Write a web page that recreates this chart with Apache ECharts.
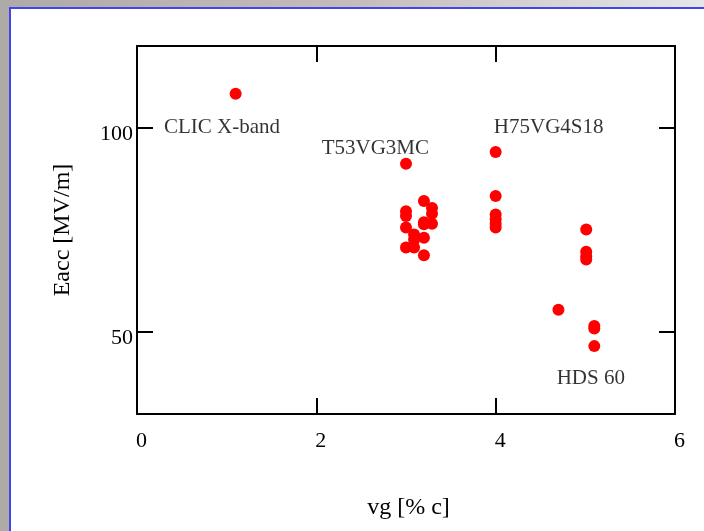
<!DOCTYPE html>
<html>
<head>
<meta charset="utf-8">
<style>
  html, body { margin: 0; padding: 0; background: #b8b2b0; }
  #chart { width: 704px; height: 531px; }
</style>
<script src="https://cdn.jsdelivr.net/npm/echarts@6/dist/echarts.min.js"></script>
</head>
<body>
<div id="chart"></div>
<script>
// ---- data ----
const xTickValues = [0, 2, 4, 6];
const yTickValues = [50, 100];

// [vg %c, Eacc MV/m]
const clicPoints = [[1.10, 108.3]];
const t53Points = [
  [3.00, 91.2], [3.00, 79.6], [3.00, 78.4], [3.00, 75.6], [3.00, 70.7],
  [3.09, 73.9], [3.09, 72.6], [3.09, 70.7],
  [3.20, 82.1], [3.20, 76.9], [3.20, 76.4], [3.20, 73.1], [3.20, 68.8],
  [3.29, 80.4], [3.29, 79.0], [3.29, 76.5]
];
const h75Points = [[4.00, 94.1], [4.00, 83.3], [4.00, 78.8], [4.00, 77.6], [4.00, 76.5], [4.00, 75.6]];
const hdsPoints = [[5.01, 75.1], [5.01, 69.7], [5.01, 68.6], [5.01, 67.8], [4.70, 55.5], [5.10, 51.5], [5.10, 50.9], [5.10, 46.6]];

// annotation text anchored at [left x, middle y] in data units
const annotationNames = ['CLIC X-band', 'T53VG3MC', 'H75VG4S18', 'HDS 60'];
const annotationAnchors = [[0.30, 100.0], [2.06, 95.0], [3.98, 100.0], [4.68, 38.8]];

const allPoints = [].concat(clicPoints, t53Points, h75Points, hdsPoints);

const chart = echarts.init(document.getElementById('chart'), null, { renderer: 'canvas' });

const serif = '"Liberation Serif", "DejaVu Serif", "Times New Roman", serif';
const axisLineStyle = { color: '#000', width: 2 };

const option = {
  animation: false,
  backgroundColor: 'transparent',
  graphic: [
    {
      type: 'rect', z: -10, silent: true,
      shape: { x: 0, y: 0, width: 704, height: 531 },
      style: {
        fill: new echarts.graphic.LinearGradient(0, 0, 1, 0, [
          { offset: 0, color: '#aeaaa8' },
          { offset: 0.5, color: '#c4bcba' },
          { offset: 1, color: '#e4e6e8' }
        ])
      }
    },
    {
      type: 'rect', z: -9, silent: true,
      shape: { x: 10, y: 8, width: 760, height: 600 },
      style: { fill: '#ffffff', stroke: '#4444ee', lineWidth: 2 }
    }
  ],
  grid: { left: 137, right: 29, top: 46, bottom: 117, containLabel: false, outerBoundsMode: 'none' },
  xAxis: [
    {
      type: 'value', position: 'bottom', min: 0, max: 6, interval: 2,
      name: 'vg [% c]', nameLocation: 'middle', nameGap: 82,
      nameTextStyle: { fontFamily: serif, fontSize: 24, color: '#000', padding: [0, 0, 0, 5] },
      axisLine: { show: true, onZero: false, lineStyle: axisLineStyle },
      axisTick: { show: true, inside: true, length: 16, lineStyle: axisLineStyle },
      axisLabel: { show: true, margin: 16, fontFamily: serif, fontSize: 22, color: '#000',
        customValues: xTickValues, showMinLabel: true, showMaxLabel: true,
        formatter: v => String(v), padding: [0, 0, 0, 9] },
      splitLine: { show: false }
    },
    {
      type: 'value', position: 'top', min: 0, max: 6, interval: 2,
      axisLine: { show: true, onZero: false, lineStyle: axisLineStyle },
      axisTick: { show: true, inside: true, length: 16, lineStyle: axisLineStyle },
      axisLabel: { show: false },
      splitLine: { show: false }
    }
  ],
  yAxis: [
    {
      type: 'value', position: 'left', min: 30, max: 120,
      name: 'Eacc [MV/m]', nameLocation: 'middle', nameGap: 62, nameRotate: 90,
      nameTextStyle: { fontFamily: serif, fontSize: 24, color: '#000' },
      axisLine: { show: true, onZero: false, lineStyle: axisLineStyle },
      axisTick: { show: true, inside: true, length: 16, lineStyle: axisLineStyle, customValues: yTickValues },
      axisLabel: { show: true, margin: 4, color: '#000',
        customValues: yTickValues,
        formatter: v => '{t|' + v + '}',
        rich: { t: { fontFamily: serif, fontSize: 22, color: '#000', padding: [12, 0, 0, 0] } } },
      splitLine: { show: false }
    },
    {
      type: 'value', position: 'right', min: 30, max: 120,
      axisLine: { show: true, onZero: false, lineStyle: axisLineStyle },
      axisTick: { show: true, inside: true, length: 16, lineStyle: axisLineStyle, customValues: yTickValues },
      axisLabel: { show: false },
      splitLine: { show: false }
    }
  ],
  series: [
    {
      type: 'scatter', xAxisIndex: 0, yAxisIndex: 0,
      data: allPoints, symbol: 'circle', symbolSize: 12,
      itemStyle: { color: '#ff0000', opacity: 1 }
    },
    {
      type: 'scatter', xAxisIndex: 0, yAxisIndex: 0, silent: true,
      symbolSize: 0,
      data: annotationAnchors.map((a, i) => ({ value: a, name: annotationNames[i] })),
      label: {
        show: true, position: 'right', distance: 0,
        formatter: p => p.name,
        fontFamily: serif, fontSize: 21, color: '#000', verticalAlign: 'middle'
      }
    }
  ]
};

chart.setOption(option);
</script>
</body>
</html>
